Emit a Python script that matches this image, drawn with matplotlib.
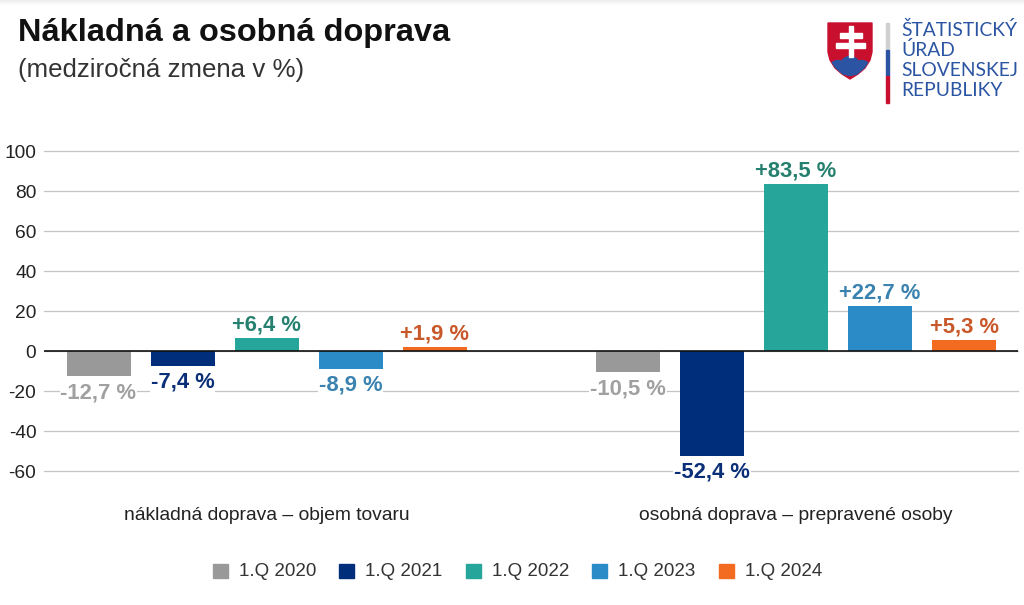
import numpy as np
import matplotlib
matplotlib.use('Agg')
import matplotlib.pyplot as plt
from matplotlib.patches import Rectangle, Polygon, Circle

plt.rcParams['font.family'] = ['Liberation Sans', 'DejaVu Sans']

categories = ['nákladná doprava – objem tovaru', 'osobná doprava – prepravené osoby']
years = ['1.Q 2020', '1.Q 2021', '1.Q 2022', '1.Q 2023', '1.Q 2024']
freight = [-12.7, -7.4, 6.4, -8.9, 1.9]
passenger = [-10.5, -52.4, 83.5, 22.7, 5.3]
colors = ['#999999', '#002e7a', '#26a69a', '#2a8bc7', '#f26b21']
label_colors = ['#a0a0a0', '#0a2f78', '#26806f', '#3a82b0', '#c8582a']
yticks = [-60, -40, -20, 0, 20, 40, 60, 80, 100]

W, H = 1024, 605
fig = plt.figure(figsize=(W / 100, H / 100), dpi=100)

# faint shadow along the top edge
top = fig.add_axes([0, 1 - 6 / H, 1, 6 / H])
top.imshow(np.linspace(0.93, 1, 6).reshape(-1, 1), cmap='gray', vmin=0, vmax=1, aspect='auto')
top.axis('off')

ax = fig.add_axes([44 / W, 1 - 471 / H, (1018 - 44) / W, (471 - 151) / H])
ax.set_xlim(44, 1018)
ax.set_ylim(-60, 100)

# bar centres in pixel-like x units
starts = [98.5, 628]
for start, vals in zip(starts, [freight, passenger]):
    for i, v in enumerate(vals):
        x = start + i * 84
        ax.bar(x, v, width=64, color=colors[i], zorder=3)
        txt = f'{v:+.1f} %'.replace('.', ',')
        off = 1.3 if v > 0 else -3
        ax.text(x, v + off, txt, ha='center', va='bottom' if v > 0 else 'top',
                color=label_colors[i], fontsize=15.8, fontweight='bold', zorder=4, clip_on=False,
                bbox=dict(facecolor='white', edgecolor='none', pad=0.5))

ax.set_yticks(yticks)
ax.set_yticklabels([str(t) for t in yticks])
ax.tick_params(axis='y', length=0, labelsize=13.8, labelcolor='#222222', pad=5.5)
ax.set_xticks([])
ax.grid(axis='y', color='#c4c4c4', lw=0.9, zorder=0)
for line in ax.get_ygridlines():
    line.set_clip_on(False)
ax.set_axisbelow(True)
for s in ax.spines.values():
    s.set_visible(False)
ax.axhline(0, color='#111111', lw=1.2, zorder=5)

for x, c in zip([267, 796], categories):
    fig.text(x / W, 1 - 515 / H, c, ha='center', va='center', fontsize=13.9, color='#222222')

# legend
for x, y, c in zip([213, 339, 466, 592, 719], years, colors):
    fig.add_artist(Rectangle((x / W, 1 - 578 / H), 15 / W, 14 / H, color=c, transform=fig.transFigure))
    fig.text((x + 26) / W, 1 - 571 / H, y, ha='left', va='center', fontsize=13.5, color='#333333')

fig.text(18 / W, 1 - 33 / H, 'Nákladná a osobná doprava', fontsize=23.4, fontweight='bold',
         va='center', color='#111111')
fig.text(18 / W, 1 - 70 / H, '(medziročná zmena v %)', fontsize=18.6, va='center', color='#333333')

# logo, drawn on a pixel-scaled overlay
logo = fig.add_axes([0, 0, 1, 1], facecolor='none')
logo.set_xlim(0, W)
logo.set_ylim(H, 0)
logo.axis('off')
red, blue = '#c8102e', '#2b55a3'
outline = [(828, 23), (872, 23), (872, 52), (870, 60), (865, 68), (858, 74), (850, 79),
           (842, 74), (835, 68), (830, 60), (828, 52)]
shield = Polygon(outline, closed=True, color=red)
logo.add_patch(shield)
for cx, cy, r in [(838, 69, 8.5), (850, 66, 9.5), (862, 69, 8.5)]:
    hill = Circle((cx, cy), r, color=blue)
    logo.add_patch(hill)
    hill.set_clip_path(shield)
logo.add_patch(Rectangle((848.5, 26), 4.5, 31, color='white'))
logo.add_patch(Rectangle((840, 33), 22, 5, color='white'))
logo.add_patch(Rectangle((836, 43), 29, 5, color='white'))
for y0, y1, c in [(23, 50, '#d0d0d0'), (50, 76, blue), (76, 103, red)]:
    logo.add_patch(Rectangle((886, y0), 2.6, y1 - y0, color=c))
for y, t in zip([30, 50, 70, 90], ['ŠTATISTICKÝ', 'ÚRAD', 'SLOVENSKEJ', 'REPUBLIKY']):
    logo.text(901, y, t, fontsize=13.9, va='center', color=blue, family=['Lato', 'DejaVu Sans'])

fig.savefig('out.png', dpi=100)
